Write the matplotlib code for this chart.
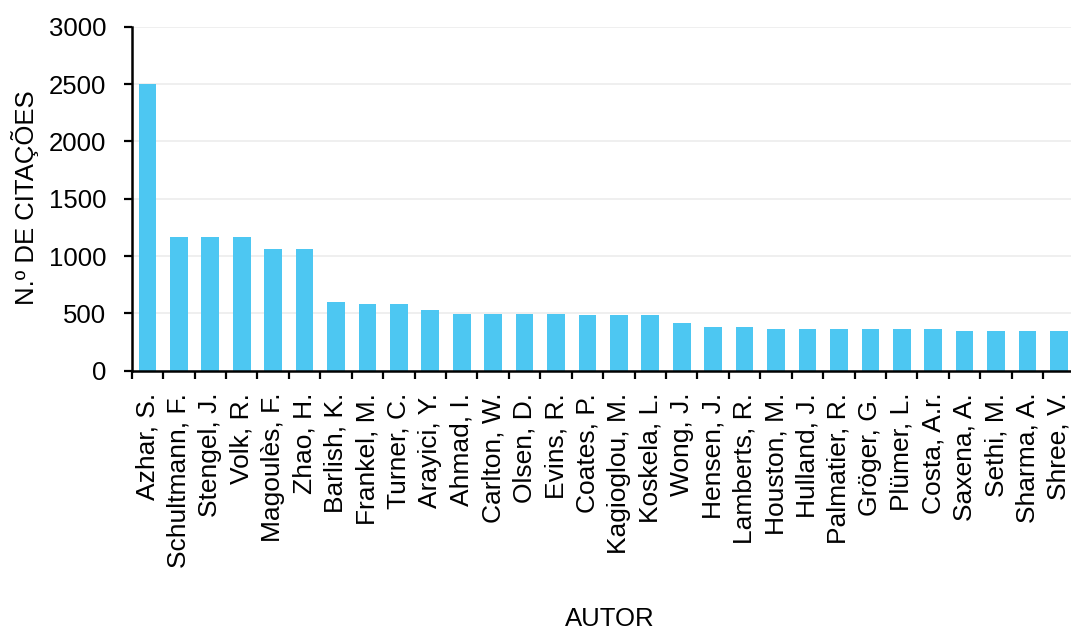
import matplotlib
matplotlib.use("Agg")
import matplotlib.pyplot as plt
import numpy as np

plt.rcParams["font.family"] = ["Liberation Sans", "DejaVu Sans"]

# citations per author
authors = [
    "Azhar, S.", "Schultmann, F.", "Stengel, J.", "Volk, R.", "Magoulès, F.",
    "Zhao, H.", "Barlish, K.", "Frankel, M.", "Turner, C.", "Arayici, Y.",
    "Ahmad, I.", "Carlton, W.", "Olsen, D.", "Evins, R.", "Coates, P.",
    "Kagioglou, M.", "Koskela, L.", "Wong, J.", "Hensen, J.", "Lamberts, R.",
    "Houston, M.", "Hulland, J.", "Palmatier, R.", "Gröger, G.", "Plümer, L.",
    "Costa, A.r.", "Saxena, A.", "Sethi, M.", "Sharma, A.", "Shree, V.",
]
citations = [
    2500, 1163, 1163, 1163, 1061,
    1061, 601, 581, 581, 532,
    497, 497, 497, 491, 485,
    485, 485, 415, 383, 383,
    363, 363, 363, 363, 363,
    363, 345, 345, 345, 345,
]
y_ticks = [0, 500, 1000, 1500, 2000, 2500, 3000]

W, H = 1071, 634
fig = plt.figure(figsize=(W / 100, H / 100), dpi=100)
ax = fig.add_axes([131.7 / W, (H - 370.6) / H, (1074.6 - 131.7) / W, (370.6 - 26.8) / H])

x = np.arange(len(authors))
ax.bar(x, citations, width=0.56, color="#4DC7F2", zorder=2)

ax.set_xlim(-0.5, len(authors) - 0.5)
ax.set_ylim(0, 3000)
ax.set_yticks(y_ticks)
ax.set_yticklabels([str(v) for v in y_ticks], fontsize=18.5)
ax.grid(axis="y", color="#EFEFEF", linewidth=1.4, zorder=0)

# labels centred on bars, tick marks between categories
ax.set_xticks(x)
ax.set_xticklabels(authors, rotation=90, fontsize=19, va="top", ha="center")
ax.tick_params(axis="x", which="major", length=0, pad=16)
ax.set_xticks(np.arange(len(authors) + 1) - 0.5, minor=True)
ax.tick_params(axis="x", which="minor", length=5.5, width=1.6, direction="out", color="black")
ax.tick_params(axis="y", length=5.5, width=1.6, direction="out", pad=13)

for side in ("top", "right"):
    ax.spines[side].set_visible(False)
for side in ("left", "bottom"):
    ax.spines[side].set_linewidth(1.8)
    ax.spines[side].set_color("black")

fig.text(25 / W, 1 - 197.5 / H, "N.º DE CITAÇÕES", fontsize=18.5, rotation=90,
         ha="center", va="center")
fig.text(610 / W, 3 / H, "AUTOR", fontsize=18.5, ha="center", va="bottom")

fig.savefig("out.png", dpi=100)
